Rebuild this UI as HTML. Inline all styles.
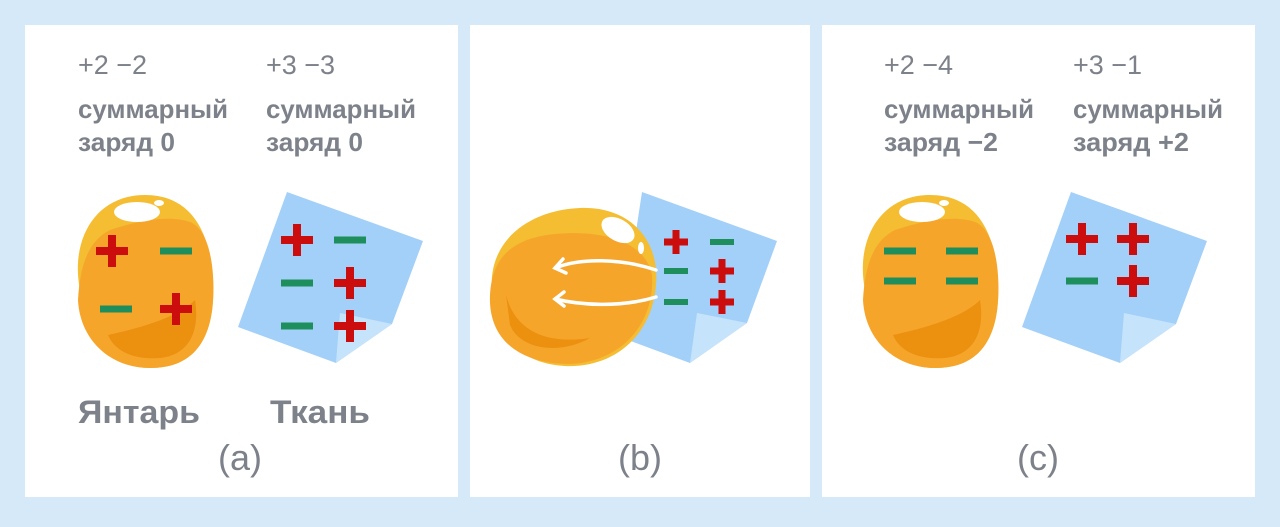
<!DOCTYPE html>
<html><head><meta charset="utf-8"><style>
html,body{margin:0;padding:0;background:#d5e9f8;}
svg{display:block}
text{font-family:"Liberation Sans",sans-serif;fill:#7d818a}
</style></head><body>
<svg width="1280" height="527" viewBox="0 0 1280 527" xmlns="http://www.w3.org/2000/svg">
<defs>
<g id="plus"><rect x="-16" y="-4" width="32" height="8" fill="#cc0d0d"/><rect x="-4" y="-16" width="8" height="32" fill="#cc0d0d"/></g>
<g id="minus"><rect x="-16" y="-3.5" width="32" height="7" fill="#1e8f5c"/></g>
<g id="plusS"><rect x="-12" y="-3.5" width="24" height="7" fill="#cc0d0d"/><rect x="-3.5" y="-12" width="7" height="24" fill="#cc0d0d"/></g>
<g id="minusS"><rect x="-12" y="-3" width="24" height="6" fill="#1e8f5c"/></g>
<g id="amber">
<path d="M80,290 C70,240 95,195 145,195 C190,195 210,230 213,280 C216,330 200,368 150,368 C105,368 88,330 80,290 Z" fill="#f4bd32"/>
<path d="M78,300 C80,262 90,240 110,230 C140,220 170,215 190,222 C210,230 215,270 213,300 C210,345 190,368 150,368 C110,368 80,340 78,300 Z" fill="#f6a52b"/>
<path d="M108,335 C130,330 175,320 195,300 C200,330 190,355 160,358 C135,360 115,352 108,335 Z" fill="#ec9010"/>
<ellipse cx="137" cy="212" rx="23" ry="10" fill="#fff"/>
<ellipse cx="159" cy="203" rx="5" ry="3" fill="#fff"/>
</g>
</defs>
<rect x="25" y="25" width="433" height="472" fill="#fff"/>
<rect x="470" y="25" width="340" height="472" fill="#fff"/>
<rect x="822" y="25" width="433" height="472" fill="#fff"/>

<!-- panel a -->
<text x="78" y="74" font-size="27">+2  −2</text>
<text x="266" y="74" font-size="27">+3  −3</text>
<text x="78" y="118" font-size="26" font-weight="bold" textLength="150" lengthAdjust="spacingAndGlyphs">суммарный</text>
<text x="78" y="151" font-size="26" font-weight="bold" textLength="97" lengthAdjust="spacingAndGlyphs">заряд 0</text>
<text x="266" y="118" font-size="26" font-weight="bold" textLength="150" lengthAdjust="spacingAndGlyphs">суммарный</text>
<text x="266" y="151" font-size="26" font-weight="bold" textLength="97" lengthAdjust="spacingAndGlyphs">заряд 0</text>
<use href="#amber"/>
<polygon points="287,192 423,241 392,324 336,363 238,327" fill="#a3d0f8"/>
<polygon points="340,313 392,324 336,363" fill="#c6e3fc"/>
<use href="#plus" x="112" y="251"/><use href="#minus" x="176" y="251"/>
<use href="#minus" x="116" y="309"/><use href="#plus" x="176" y="309"/>
<use href="#plus" x="297" y="240"/><use href="#minus" x="350" y="240"/>
<use href="#minus" x="297" y="283"/><use href="#plus" x="350" y="283"/>
<use href="#minus" x="297" y="326"/><use href="#plus" x="350" y="326"/>
<text x="78" y="423" font-size="32" font-weight="bold" textLength="122" lengthAdjust="spacingAndGlyphs">Янтарь</text>
<text x="270" y="423" font-size="32" font-weight="bold" textLength="100" lengthAdjust="spacingAndGlyphs">Ткань</text>
<text x="240" y="470" font-size="36" text-anchor="middle">(a)</text>

<!-- panel b -->
<polygon points="642,192 777,241 747,323 690,363 620,337" fill="#a3d0f8"/>
<polygon points="697,313 747,323 690,363" fill="#c6e3fc"/>
<path d="M492,290 C488,240 530,210 580,208 C630,206 660,240 656,285 C652,335 615,368 565,366 C520,364 495,335 492,290 Z" fill="#f4bd32"/>
<path d="M490,295 C492,255 515,238 555,234 C600,230 645,240 652,275 C655,325 620,362 570,364 C520,364 488,340 490,295 Z" fill="#f6a52b"/>
<path d="M506,295 C515,330 545,345 590,338 C560,355 520,350 510,325 Z" fill="#ec9010"/>
<ellipse cx="618" cy="230" rx="18" ry="11" fill="#fff" transform="rotate(30 618 230)"/>
<ellipse cx="641" cy="248" rx="3" ry="6" fill="#fff"/>
<use href="#plusS" x="676" y="242"/><use href="#minusS" x="722" y="242"/>
<use href="#minusS" x="676" y="271"/><use href="#plusS" x="722" y="271"/>
<use href="#minusS" x="676" y="302"/><use href="#plusS" x="722" y="302"/>
<g fill="none" stroke="#fff" stroke-width="3.5" stroke-linecap="round">
<path d="M656,270 C620,258 580,258 555,268"/><path d="M563,259 L555,268 L566,273"/>
<path d="M656,297 C620,308 580,305 555,299"/><path d="M564,292 L555,299 L564,306"/>
</g>
<text x="640" y="470" font-size="36" text-anchor="middle">(b)</text>

<!-- panel c -->
<text x="884" y="74" font-size="27">+2  −4</text>
<text x="1073" y="74" font-size="27">+3  −1</text>
<text x="884" y="118" font-size="26" font-weight="bold" textLength="150" lengthAdjust="spacingAndGlyphs">суммарный</text>
<text x="884" y="151" font-size="26" font-weight="bold" textLength="114" lengthAdjust="spacingAndGlyphs">заряд −2</text>
<text x="1073" y="118" font-size="26" font-weight="bold" textLength="150" lengthAdjust="spacingAndGlyphs">суммарный</text>
<text x="1073" y="151" font-size="26" font-weight="bold" textLength="116" lengthAdjust="spacingAndGlyphs">заряд +2</text>
<use href="#amber" x="785"/>
<polygon points="1071,192 1207,241 1176,324 1120,363 1022,327" fill="#a3d0f8"/>
<polygon points="1124,313 1176,324 1120,363" fill="#c6e3fc"/>
<use href="#minus" x="900" y="251"/><use href="#minus" x="962" y="251"/>
<use href="#minus" x="900" y="281"/><use href="#minus" x="962" y="281"/>
<use href="#plus" x="1082" y="239"/><use href="#plus" x="1133" y="239"/>
<use href="#minus" x="1082" y="281"/><use href="#plus" x="1133" y="281"/>
<text x="1038" y="470" font-size="36" text-anchor="middle">(c)</text>
</svg>
</body></html>
